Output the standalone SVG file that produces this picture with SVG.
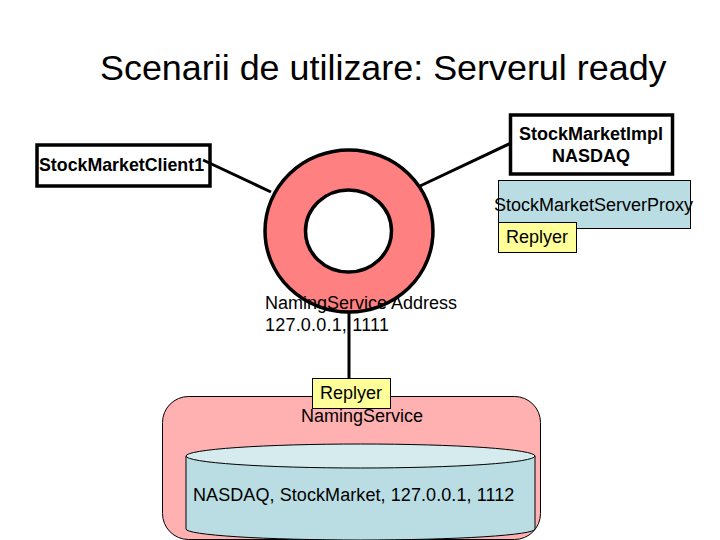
<svg xmlns="http://www.w3.org/2000/svg" width="720" height="540" viewBox="0 0 720 540">
<style>
text{font-family:"Liberation Sans",Arial,sans-serif;fill:#000;font-size:18px}
.title{font-size:35.900px}
.b{font-weight:bold}
.m{text-anchor:middle}
.box{fill:#fff;stroke:#000;stroke-width:3.500}
.rep{fill:#ffff99;stroke:#000;stroke-width:1}
.conn{stroke:#000;stroke-width:3;fill:none}
.thin{fill:#b9dde3;stroke:#000;stroke-width:1}
</style>
<rect width="720" height="540" fill="#fff"/>
<text id="title" class="title" x="100" y="80">Scenarii de utilizare: Serverul ready</text>
<g id="client"><rect class="box" x="37" y="145" width="173" height="41"/><text class="b" x="39" y="171" style="font-size:17.800px">StockMarketClient1</text></g>
<g id="impl"><rect class="box" x="510.500" y="115" width="162" height="59"/><text class="b m" x="591" y="140">StockMarketImpl</text><text class="b m" x="591" y="162">NASDAQ</text></g>
<g id="proxy"><rect class="thin" x="498.500" y="180.500" width="192" height="48"/><text x="494" y="211">StockMarketServerProxy</text></g>
<g id="replyer1"><rect class="rep" x="498.500" y="222.500" width="78" height="30"/><text x="506" y="243">Replyer</text></g>
<g id="ring"><ellipse cx="349" cy="231" rx="84" ry="81" fill="#ff8080" stroke="#000" stroke-width="3.500"/><ellipse cx="348.500" cy="231" rx="43" ry="41" fill="#fff" stroke="#000" stroke-width="3.500"/></g>
<g id="naming"><rect x="162.500" y="396.500" width="378" height="143" rx="26" fill="#ffb0b0" stroke="#000"/>
<path d="M186 456V529A174.500 11 0 0 0 535 529V456" class="thin"/><ellipse cx="360.500" cy="456" rx="174.500" ry="12" fill="#d6ebee" stroke="#000"/>
<text class="m" x="362" y="422">NamingService</text>
<text x="193" y="501" letter-spacing="0.080">NASDAQ, StockMarket, 127.0.0.1, 1112</text></g>
<g id="replyer2"><rect class="rep" x="312.500" y="378.500" width="78" height="30"/><text x="320" y="399">Replyer</text></g>
<g id="connectors">
<line class="conn" x1="203" y1="160" x2="271" y2="192"/>
<line class="conn" x1="420" y1="186" x2="511" y2="143"/>
<line class="conn" x1="349" y1="312" x2="349" y2="378"/>
</g>
<g id="address"><text x="265" y="309">NamingService Address</text><text x="265" y="331" letter-spacing="0.200">127.0.0.1, 1111</text></g>
</svg>
